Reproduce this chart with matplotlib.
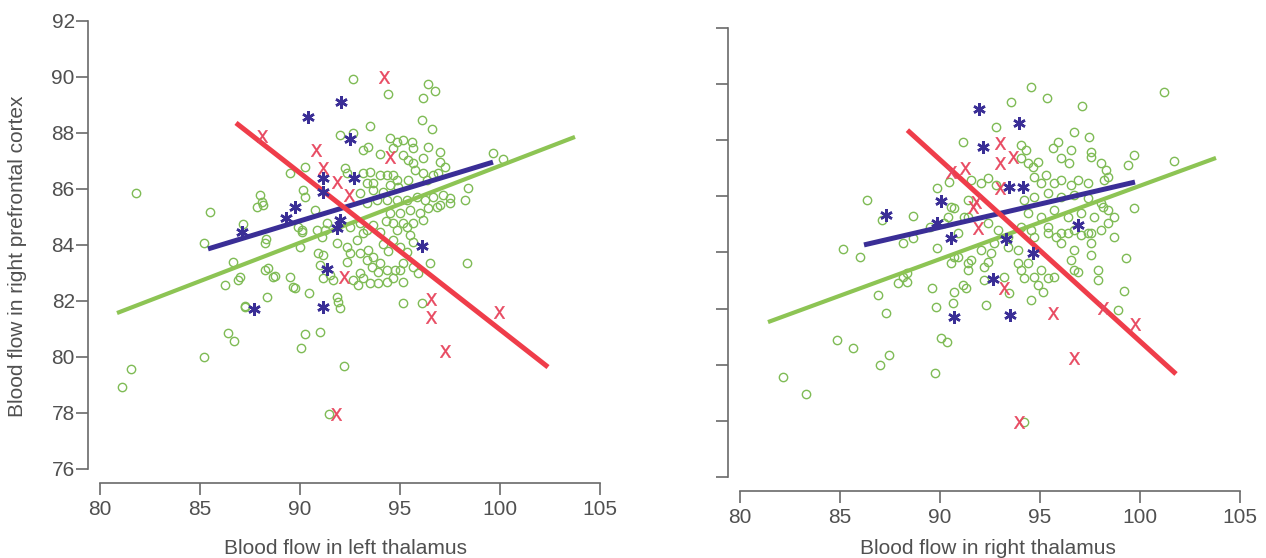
import numpy as np
import matplotlib
matplotlib.use("Agg")
import matplotlib.pyplot as plt

plt.rcParams['font.family'] = ['Liberation Sans', 'DejaVu Sans']

x_ticks = [80, 85, 90, 95, 100, 105]
y_ticks = [76, 78, 80, 82, 84, 86, 88, 90, 92]
x_label_left = "Blood flow in left thalamus"
x_label_right = "Blood flow in right thalamus"
y_label = "Blood flow in right prefrontal cortex"

# left panel: (thalamus, prefrontal)
left_circles = [
    (81.8, 85.86), (85.5, 85.18), (85.2, 84.07), (86.65, 83.4), (87.15, 84.75), (88.3, 84.2),
    (88.0, 85.8), (88.1, 85.55), (89.5, 86.57), (90.15, 85.96), (90.25, 85.71), (90.1, 84.54),
    (90.75, 85.25), (90.85, 84.54), (90.9, 83.71), (90.25, 86.79), (88.4, 83.18), (88.65, 82.86),
    (89.5, 82.86), (81.1, 78.93), (81.55, 79.57), (85.2, 80.0), (86.4, 80.86), (86.7, 80.57),
    (87.25, 81.79), (88.35, 82.14), (86.25, 82.57), (86.9, 82.75), (89.65, 82.5), (90.45, 82.29),
    (90.25, 80.82), (90.05, 80.32), (91.0, 80.89), (92.65, 89.93), (94.4, 89.39), (96.4, 89.75),
    (96.75, 89.5), (96.15, 89.25), (96.1, 88.46), (96.6, 88.14), (93.5, 88.25), (92.0, 87.93),
    (92.65, 88.0), (93.15, 87.39), (93.4, 87.5), (94.0, 87.25), (94.5, 87.82), (94.85, 87.68),
    (95.15, 87.75), (95.6, 87.68), (95.65, 87.46), (94.65, 87.46), (95.15, 87.21), (95.4, 87.04),
    (95.65, 86.93), (96.15, 87.11), (96.4, 87.5), (97.0, 87.32), (97.0, 86.96), (97.25, 86.79),
    (96.9, 86.57), (99.65, 87.29), (100.15, 87.07), (98.4, 86.04), (98.25, 85.61), (97.15, 85.79),
    (97.5, 85.68), (97.0, 85.43), (87.85, 85.36), (88.15, 85.43), (92.25, 86.75), (92.35, 86.57),
    (93.15, 86.57), (93.5, 86.61), (93.35, 86.21), (93.65, 86.21), (94.0, 86.5), (94.35, 86.5),
    (94.65, 86.5), (94.85, 86.32), (94.5, 86.14), (94.9, 86.07), (95.4, 86.32), (95.75, 86.68),
    (96.15, 86.57), (96.35, 86.32), (96.65, 86.5), (93.0, 85.86), (93.65, 85.96), (94.15, 85.89),
    (93.35, 85.5), (93.85, 85.61), (94.35, 85.61), (94.85, 85.61), (95.35, 85.61), (95.85, 85.71),
    (96.25, 85.61), (96.65, 85.71), (94.5, 85.14), (95.0, 85.14), (95.5, 85.25), (96.0, 85.14),
    (96.4, 85.32), (96.85, 85.36), (97.5, 85.5), (94.65, 84.79), (95.15, 84.79), (95.65, 84.79),
    (96.15, 84.89), (88.25, 84.07), (90.0, 83.93), (90.1, 84.46), (89.9, 84.64), (88.25, 83.11),
    (88.75, 82.89), (87.0, 82.86), (89.75, 82.46), (87.25, 81.82), (91.15, 83.64), (91.0, 83.29),
    (91.15, 82.82), (91.5, 82.93), (91.65, 82.75), (91.85, 82.14), (91.9, 81.96), (92.0, 81.75),
    (92.2, 79.68), (91.45, 77.96), (91.1, 84.29), (91.25, 84.54), (91.35, 84.79), (91.85, 84.07),
    (92.35, 83.93), (92.5, 83.71), (92.35, 83.39), (92.85, 84.18), (93.15, 84.43), (93.0, 83.71),
    (93.4, 83.82), (93.35, 83.46), (93.65, 83.57), (93.6, 83.21), (94.0, 83.36), (94.35, 83.11),
    (93.9, 83.04), (93.0, 83.0), (93.15, 82.82), (92.9, 82.57), (92.65, 82.75), (93.5, 82.64),
    (93.9, 82.64), (94.35, 82.68), (94.75, 83.11), (95.15, 83.36), (95.0, 83.11), (94.65, 82.82),
    (95.15, 82.68), (95.65, 83.21), (95.9, 83.0), (96.5, 83.36), (98.35, 83.36), (96.1, 81.93),
    (95.15, 81.93), (92.5, 84.64), (93.0, 84.79), (93.35, 84.54), (93.65, 84.71), (94.0, 84.46),
    (94.3, 84.85), (94.85, 84.55), (95.35, 84.64), (95.5, 84.36), (95.65, 84.11), (94.65, 84.18),
    (95.0, 83.93), (95.35, 83.75), (94.15, 84.04), (94.4, 83.79),
]
left_stars = [
    (92.05, 89.1), (90.4, 88.57), (92.5, 87.79), (91.15, 86.39), (92.7, 86.39), (91.15, 85.9),
    (89.75, 85.36), (89.3, 84.96), (87.1, 84.46), (92.0, 84.9), (91.85, 84.6), (96.1, 83.96),
    (91.35, 83.14), (91.15, 81.79), (87.7, 81.71),
]
left_crosses = [
    (94.2, 90.0), (88.1, 87.9), (90.8, 87.4), (94.5, 87.15), (91.15, 86.75), (91.85, 86.25),
    (92.45, 85.8), (92.2, 82.86), (96.55, 82.07), (96.55, 81.43), (97.25, 80.21), (91.8, 77.96),
    (99.95, 81.61),
]
left_green_fit = [(80.85, 81.57), (103.75, 87.86)]
left_blue_fit = [(85.4, 83.86), (99.65, 86.96)]
left_red_fit = [(86.8, 88.36), (102.4, 79.64)]

# right panel
right_circles = [
    (94.54, 89.9), (93.53, 89.36), (95.34, 89.5), (97.09, 89.22), (92.78, 88.47), (91.13, 87.94),
    (96.69, 88.29), (97.44, 88.11), (95.89, 87.94), (95.64, 87.72), (96.54, 87.65), (96.04, 87.37),
    (96.44, 87.19), (97.54, 87.58), (97.54, 87.4), (94.04, 87.83), (94.29, 87.65), (94.04, 87.37),
    (94.39, 87.19), (94.64, 87.05), (94.89, 87.22), (98.05, 87.19), (98.3, 86.94), (98.4, 86.69),
    (98.2, 86.58), (89.87, 86.3), (90.43, 86.51), (91.53, 86.58), (92.03, 86.48), (92.38, 86.65),
    (92.78, 86.4), (94.69, 86.69), (95.29, 86.76), (95.04, 86.48), (95.69, 86.48), (96.04, 86.58),
    (96.54, 86.4), (96.89, 86.58), (97.39, 86.48), (86.37, 85.87), (88.67, 85.3), (90.53, 85.62),
    (91.18, 85.26), (90.18, 85.05), (89.52, 84.91), (94.19, 85.87), (94.69, 85.98), (95.39, 86.12),
    (96.04, 85.98), (96.69, 86.05), (97.39, 85.94), (98.05, 85.76), (98.4, 85.51), (98.7, 85.26),
    (98.4, 85.05), (98.05, 84.8), (94.39, 85.41), (95.04, 85.26), (95.69, 85.51), (96.39, 85.26),
    (97.04, 85.41), (97.69, 85.26), (94.04, 84.91), (94.54, 84.8), (95.39, 84.91), (96.04, 84.69),
    (96.69, 84.8), (97.39, 84.69), (98.7, 84.55), (92.38, 85.05), (92.88, 84.8), (93.38, 84.55),
    (101.2, 89.72), (99.7, 87.47), (99.4, 87.12), (101.7, 87.26), (99.7, 85.58), (99.3, 83.8),
    (97.54, 83.91), (96.54, 83.73), (96.69, 83.38), (97.89, 83.38), (98.15, 85.62), (97.54, 84.69),
    (86.02, 83.84), (88.17, 84.34), (88.67, 84.52), (87.92, 82.91), (88.37, 82.95), (88.17, 83.13),
    (86.92, 82.48), (87.32, 81.84), (89.62, 82.73), (89.82, 82.06), (90.68, 82.59), (90.63, 82.2),
    (91.13, 82.84), (91.28, 82.73), (92.28, 82.13), (90.03, 80.95), (90.33, 80.81), (87.02, 79.99),
    (87.47, 80.35), (89.77, 79.7), (94.54, 82.31), (95.14, 82.59), (94.89, 82.84), (94.69, 83.13),
    (94.19, 83.09), (94.04, 83.38), (94.39, 83.63), (93.88, 83.63), (95.04, 83.38), (95.39, 83.09),
    (95.69, 83.13), (93.18, 83.13), (93.43, 82.56), (92.18, 83.02), (92.38, 83.66), (92.03, 84.09),
    (92.68, 84.34), (93.38, 84.2), (93.88, 84.09), (94.69, 84.55), (95.39, 84.69), (96.04, 84.34),
    (96.69, 84.09), (97.54, 84.34), (96.89, 83.3), (97.89, 83.02), (95.79, 84.55), (96.39, 84.69),
    (97.04, 84.62), (91.38, 83.38), (91.53, 83.73), (90.88, 83.84), (89.87, 84.16), (90.53, 83.63),
    (94.19, 77.96), (98.9, 81.95), (99.2, 82.63), (82.16, 79.56), (83.31, 78.96), (84.86, 80.88),
    (85.66, 80.6), (87.12, 85.16), (85.16, 84.12), (91.38, 85.87), (90.68, 85.59), (91.38, 85.26),
    (90.38, 85.26), (90.88, 84.69), (90.68, 83.84), (91.38, 83.63), (92.18, 83.48), (92.53, 83.98),
    (88.37, 83.27),
]
right_stars = [
    (91.93, 89.11), (93.93, 88.61), (92.13, 87.76), (90.03, 85.83), (87.32, 85.34), (93.43, 86.33),
    (94.14, 86.33), (89.87, 85.05), (96.89, 84.98), (90.53, 84.52), (93.28, 84.48), (94.64, 83.98),
    (92.63, 83.05), (90.68, 81.7), (93.48, 81.77),
]
right_crosses = [
    (92.98, 87.9), (93.63, 87.4), (92.98, 87.19), (91.23, 87.01), (90.53, 86.87), (92.98, 86.3),
    (91.78, 85.8), (91.63, 85.62), (91.88, 84.87), (93.18, 82.73), (95.64, 81.84), (96.69, 80.24),
    (93.93, 77.96), (98.14, 82.02), (99.75, 81.45),
]
right_green_fit = [(81.4, 81.52), (103.8, 87.37)]
right_blue_fit = [(86.2, 84.27), (99.75, 86.51)]
right_red_fit = [(88.37, 88.36), (101.8, 79.67)]

GREEN_PT = '#7fbb55'
GREEN_LN = '#8dc454'
BLUE = '#3a2e96'
RED_LN = '#ef3d4a'
RED_X = '#e8475f'
AXIS = '#6a6a6a'
TEXT = '#505050'


def draw_panel(ax, circles, stars, crosses, green_fit, blue_fit, red_fit, ylabels):
    c = np.array(circles)
    s = np.array(stars)
    x = np.array(crosses)
    ax.plot(c[:, 0], c[:, 1], 'o', ms=6, mfc='none', mec=GREEN_PT, mew=1.0, zorder=2)
    for seg, col, lw in [(green_fit, GREEN_LN, 3.0), (blue_fit, BLUE, 3.6), (red_fit, RED_LN, 3.6)]:
        seg = np.array(seg)
        ax.plot(seg[:, 0], seg[:, 1], '-', color=col, lw=lw, solid_capstyle='butt', zorder=3)
    ax.plot(s[:, 0], s[:, 1], ls='none', marker=(6, 2, 0), ms=9, mec=BLUE, mew=1.8, zorder=4)
    ax.plot(x[:, 0], x[:, 1], ls='none', marker=r'$\mathsf{X}$', ms=9, color=RED_X, mew=0.3, zorder=5)

    ax.set_xlim(79.4, 105.25)
    ax.set_ylim(75.5, 92.1)
    ax.set_xticks(x_ticks)
    ax.set_yticks(y_ticks)
    if not ylabels:
        ax.set_yticklabels([])
    for side in ['top', 'right']:
        ax.spines[side].set_visible(False)
    ax.spines['left'].set_bounds(76, 92)
    ax.spines['bottom'].set_bounds(80, 105)
    for side in ['left', 'bottom']:
        ax.spines[side].set_color(AXIS)
        ax.spines[side].set_linewidth(1.2)
    ax.tick_params(direction='out', length=8.5, width=1.2, color=AXIS,
                   labelcolor=TEXT, labelsize=15)
    ax.tick_params(axis='y', pad=1)
    ax.tick_params(axis='x', pad=4)


fig = plt.figure(figsize=(12.66, 5.58), dpi=100)
W, H = 1266, 558
ax1 = fig.add_axes([88 / W, (H - 483) / H, 517 / W, (483 - 18.2) / H])
ax2 = fig.add_axes([728 / W, (H - 491) / H, 517 / W, (491 - 25.2) / H])

draw_panel(ax1, left_circles, left_stars, left_crosses,
           left_green_fit, left_blue_fit, left_red_fit, True)
draw_panel(ax2, right_circles, right_stars, right_crosses,
           right_green_fit, right_blue_fit, right_red_fit, False)

fig.text(346 / W, (H - 548) / H, x_label_left, ha='center', va='center', fontsize=15, color=TEXT)
fig.text(988 / W, (H - 548) / H, x_label_right, ha='center', va='center', fontsize=15, color=TEXT)
fig.text(18 / W, (H - 256) / H, y_label, rotation=90, ha='center', va='center', fontsize=15, color=TEXT)

fig.savefig("out.png", dpi=100, facecolor='white')
